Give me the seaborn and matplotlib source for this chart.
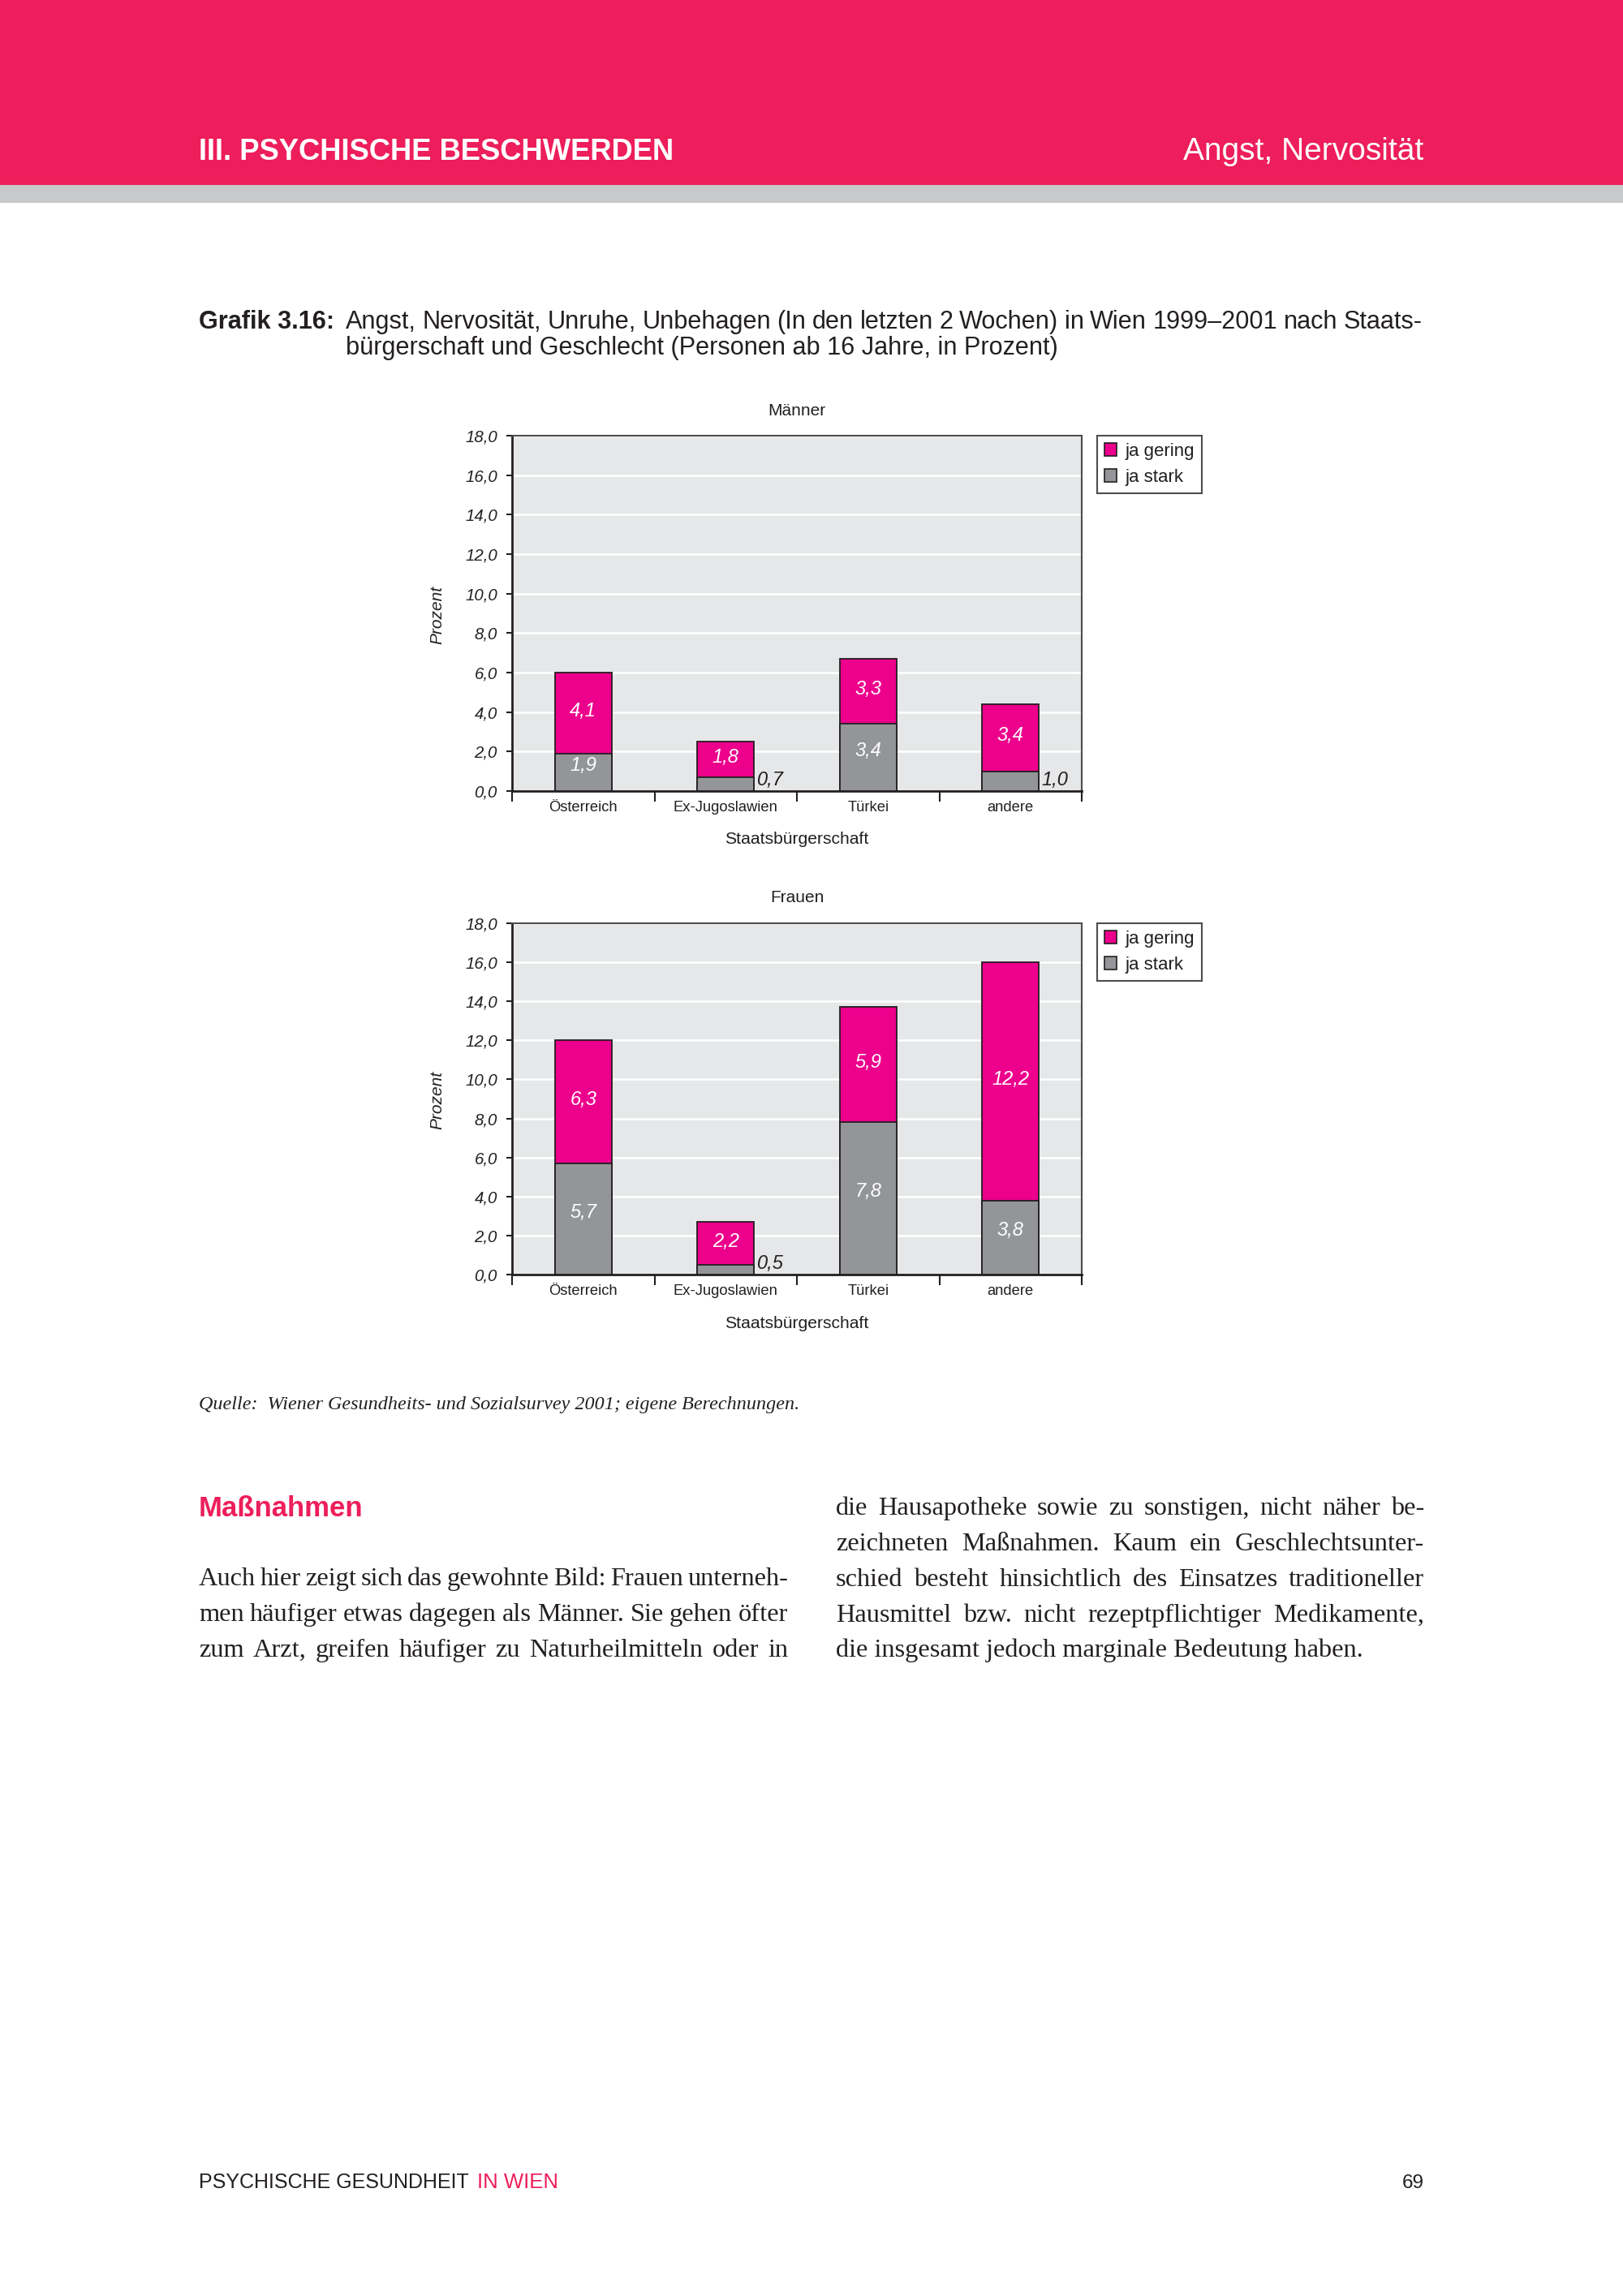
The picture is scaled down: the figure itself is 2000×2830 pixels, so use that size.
import matplotlib
matplotlib.use('Agg')
import matplotlib.pyplot as plt
from matplotlib.patches import Rectangle, Patch
from matplotlib import font_manager as fm
import seaborn as sns

# page size in pixels
W, H = 2000, 2830

# --- data ---
categories = ['Österreich', 'Ex-Jugoslawien', 'Türkei', 'andere']
maenner_stark = [1.9, 0.7, 3.4, 1.0]
maenner_gering = [4.1, 1.8, 3.3, 3.4]
frauen_stark = [5.7, 0.5, 7.8, 3.8]
frauen_gering = [6.3, 2.2, 5.9, 12.2]
y_ticks = [0, 2, 4, 6, 8, 10, 12, 14, 16, 18]
legend_labels = ['ja gering', 'ja stark']

PINK_PAGE = '#ED1E5B'
PINK_BAR = '#EC008C'
GRAY_BAR = '#939598'
BG = '#E6E7E8'
DARK = '#231F20'

sns.set_style('ticks')
names = {f.name for f in fm.fontManager.ttflist}
NARROW = 'Liberation Sans Narrow' if 'Liberation Sans Narrow' in names else 'Liberation Sans'
SC = 1.0 if NARROW == 'Liberation Sans Narrow' else 0.84
SERIF = 'Liberation Serif'
plt.rcParams['font.family'] = [NARROW, 'DejaVu Sans']

fig = plt.figure(figsize=(W / 100, H / 100), dpi=100)
renderer = fig.canvas.get_renderer()


def fx(x):
    return x / W


def fy(y):
    return 1 - y / H


def fit_text(x0, x1, y, s, size0=20, **kw):
    t = fig.text(fx(x0), fy(y), s, fontsize=size0, ha='left', va='baseline', **kw)
    w = t.get_window_extent(renderer).width
    size = size0 * (x1 - x0) / w
    t.set_fontsize(size)
    return size


def justify(line, x0, x1, y, size, **kw):
    words = line.split()
    ts = [fig.text(0, fy(y), w, fontsize=size, ha='left', va='baseline', **kw) for w in words]
    widths = [t.get_window_extent(renderer).width for t in ts]
    gap = (x1 - x0 - sum(widths)) / max(len(words) - 1, 1)
    x = x0
    for t, w in zip(ts, widths):
        t.set_x(fx(x))
        x += w + gap


# header bands
fig.patches.append(Rectangle((0, fy(228)), 1, 228 / H, transform=fig.transFigure,
                             facecolor=PINK_PAGE, edgecolor='none', zorder=0))
fig.patches.append(Rectangle((0, fy(250)), 1, 22 / H, transform=fig.transFigure,
                             facecolor='#C8C9CB', edgecolor='none', zorder=0))
fit_text(245, 829, 197, 'III. PSYCHISCHE BESCHWERDEN', 30, color='white', fontweight='bold')
fit_text(1458, 1754, 197, 'Angst, Nervosität', 30, color='white')

# caption
cap_size = fit_text(426, 1300, 437, 'bürgerschaft und Geschlecht (Personen ab 16 Jahre, in Prozent)',
                    20, color=DARK)
fig.text(fx(245), fy(405), 'Grafik 3.16:', fontsize=cap_size, fontweight='bold',
         color=DARK, ha='left', va='baseline')
justify('Angst, Nervosität, Unruhe, Unbehagen (In den letzten 2 Wochen) in Wien 1999–2001 nach Staats-',
        426, 1753, 405, cap_size, color=DARK)


def draw_panel(top, bottom, title, stark, gering, title_y, xlab_y):
    ax = fig.add_axes([fx(631), fy(bottom), (1333 - 631) / W, (bottom - top) / H])
    total = [s + g for s, g in zip(stark, gering)]
    sns.barplot(x=categories, y=total, ax=ax, color=PINK_BAR, saturation=1, width=0.4,
                edgecolor=DARK, linewidth=1.3, errorbar=None, zorder=3)
    sns.barplot(x=categories, y=stark, ax=ax, color=GRAY_BAR, saturation=1, width=0.4,
                edgecolor=DARK, linewidth=1.3, errorbar=None, zorder=3)
    ax.set_facecolor(BG)
    ax.set_xlim(-0.5, 3.5)
    ax.set_ylim(0, 18)
    ax.set_yticks(y_ticks)
    ax.set_yticklabels([f'{v:.1f}'.replace('.', ',') for v in y_ticks],
                       fontstyle='italic', fontsize=17.5 * SC, color=DARK)
    ax.yaxis.grid(True, color='white', linewidth=1.8)
    ax.set_axisbelow(True)
    ax.tick_params(axis='y', length=5, width=1.5, pad=8, color=DARK)
    ax.tick_params(axis='x', which='major', length=0, pad=9, labelsize=15.8 * SC, labelcolor=DARK)
    ax.set_xticks([-0.5, 0.5, 1.5, 2.5, 3.5], minor=True)
    ax.tick_params(axis='x', which='minor', length=9, width=1.5, direction='out', color=DARK)
    ax.set_xlabel('')
    ax.set_ylabel('')
    for side in ['left', 'bottom']:
        ax.spines[side].set_color(DARK)
        ax.spines[side].set_linewidth(2)
    for side in ['top', 'right']:
        ax.spines[side].set_visible(True)
        ax.spines[side].set_color('#4D4D4F')
        ax.spines[side].set_linewidth(1.5)

    # value labels
    for i, (s, g) in enumerate(zip(stark, gering)):
        ax.text(i, s + g / 2 + 0.1, f'{g:.1f}'.replace('.', ','), ha='center', va='center',
                color='white', fontstyle='italic', fontsize=17, zorder=5)
        if s >= 1.5:
            ax.text(i, s / 2 + 0.35, f'{s:.1f}'.replace('.', ','), ha='center', va='center',
                    color='white', fontstyle='italic', fontsize=17, zorder=5)
        else:
            ax.text(i + 0.22, 0.3, f'{s:.1f}'.replace('.', ','), ha='left', va='baseline',
                    color=DARK, fontstyle='italic', fontsize=17, zorder=5)

    handles = [Patch(facecolor=PINK_BAR, edgecolor=DARK, linewidth=1.2),
               Patch(facecolor=GRAY_BAR, edgecolor=DARK, linewidth=1.2)]
    leg = ax.legend(handles, legend_labels, loc='upper left',
                    bbox_to_anchor=(fx(1352), fy(top)), bbox_transform=fig.transFigure,
                    frameon=True, fancybox=False, edgecolor=DARK, borderaxespad=0,
                    handlelength=0.7, handleheight=0.7, handletextpad=0.45,
                    borderpad=0.4, labelspacing=0.5, fontsize=16)
    leg.get_frame().set_linewidth(1.5)
    for t in leg.get_texts():
        t.set_color(DARK)

    fig.text(fx(982), fy(title_y), title, ha='center', va='center', fontsize=15, color=DARK)
    fig.text(fx(982), fy(xlab_y), 'Staatsbürgerschaft', ha='center', va='center',
             fontsize=15.2, color=DARK)
    fig.text(fx(539), fy((top + bottom) / 2 + 2), 'Prozent', ha='center', va='center',
             rotation=90, fontstyle='italic', fontsize=15, color=DARK)
    return ax


draw_panel(537, 975, 'Männer', maenner_stark, maenner_gering, 507, 1034)
draw_panel(1138, 1571, 'Frauen', frauen_stark, frauen_gering, 1106, 1632)

# source line
fit_text(245, 987, 1737, 'Quelle:  Wiener Gesundheits- und Sozialsurvey 2001; eigene Berechnungen.',
         17, family=SERIF, fontstyle='italic', color=DARK)

# heading and body text
fit_text(245, 448, 1869, 'Maßnahmen', 30, color=PINK_PAGE, fontweight='bold')

body_size = fit_text(1030, 1678, 2042, 'die insgesamt jedoch marginale Bedeutung haben.', 22,
                     family=SERIF, color=DARK)
left_lines = ['Auch hier zeigt sich das gewohnte Bild: Frauen unterneh-',
              'men häufiger etwas dagegen als Männer. Sie gehen öfter',
              'zum Arzt, greifen häufiger zu Naturheilmitteln oder in']
right_lines = ['die Hausapotheke sowie zu sonstigen, nicht näher be-',
               'zeichneten Maßnahmen. Kaum ein Geschlechtsunter-',
               'schied besteht hinsichtlich des Einsatzes traditioneller',
               'Hausmittel bzw. nicht rezeptpflichtiger Medikamente,']
for k, line in enumerate(left_lines):
    justify(line, 245, 971, 1954 + k * 44, body_size, family=SERIF, color=DARK)
for k, line in enumerate(right_lines):
    justify(line, 1030, 1755, 1867 + k * 44, body_size, family=SERIF, color=DARK)

# footer
fit_text(245, 578, 2697, 'PSYCHISCHE GESUNDHEIT', 20, color=DARK)
fit_text(588, 688, 2697, 'IN WIEN', 20, color=PINK_PAGE)
fit_text(1728, 1755, 2697, '69', 20, color=DARK)

fig.savefig('out.png', dpi=100)
